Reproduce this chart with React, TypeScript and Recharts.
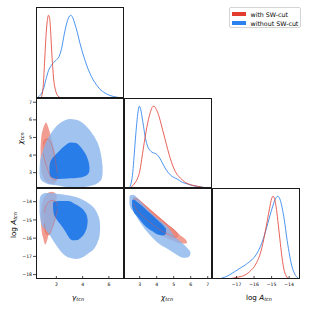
import React from "react";
import { Area, ComposedChart, Line, XAxis, YAxis } from "recharts";

// tick values
const gammaTicks = [2, 4, 6];
const chiTicks = [3, 4, 5, 6, 7];
const logATicks = [-18, -17, -16, -15, -14];
const logAXTicks = [-17, -16, -15, -14];

// 1D marginals, [x, density] (normalised to peak 1)
const gammaRed: [number, number][] = [
  [0.8, 0], [0.9, 0.03], [1.0, 0.15], [1.1, 0.42], [1.2, 0.72], [1.3, 0.92], [1.4, 1.0],
  [1.48, 0.97], [1.56, 0.82], [1.64, 0.58], [1.72, 0.38], [1.8, 0.22], [1.9, 0.12],
  [2.0, 0.06], [2.15, 0.02], [2.4, 0],
];
const gammaBlue: [number, number][] = [
  [0.5, 0], [0.75, 0.03], [1.0, 0.1], [1.2, 0.22], [1.4, 0.33], [1.6, 0.39], [1.8, 0.43],
  [2.0, 0.46], [2.2, 0.5], [2.4, 0.6], [2.6, 0.77], [2.8, 0.91], [3.0, 0.99], [3.1, 1.0],
  [3.25, 0.97], [3.4, 0.9], [3.6, 0.79], [3.8, 0.66], [4.05, 0.52], [4.3, 0.4], [4.55, 0.3],
  [4.8, 0.22], [5.05, 0.16], [5.3, 0.11], [5.7, 0.06], [6.1, 0.03], [6.6, 0.01], [7.1, 0],
];
const chiRed: [number, number][] = [
  [2.43, 0], [2.6, 0.03], [2.75, 0.07], [2.9, 0.13], [3.02, 0.22], [3.12, 0.35], [3.22, 0.49],
  [3.32, 0.62], [3.42, 0.74], [3.52, 0.84], [3.62, 0.92], [3.72, 0.98], [3.8, 1.0], [3.9, 0.99],
  [4.0, 0.95], [4.1, 0.9], [4.2, 0.83], [4.35, 0.71], [4.5, 0.59], [4.65, 0.47], [4.8, 0.36],
  [4.95, 0.27], [5.1, 0.2], [5.3, 0.14], [5.5, 0.1], [5.75, 0.06], [6.0, 0.04], [6.4, 0.02],
  [6.9, 0],
];
const chiBlue: [number, number][] = [
  [2.38, 0], [2.5, 0.06], [2.6, 0.2], [2.67, 0.38], [2.75, 0.6], [2.83, 0.79], [2.91, 0.94],
  [2.98, 1.0], [3.06, 0.96], [3.14, 0.87], [3.23, 0.75], [3.32, 0.63], [3.42, 0.54],
  [3.51, 0.49], [3.65, 0.45], [3.8, 0.43], [3.95, 0.42], [4.1, 0.39], [4.25, 0.34], [4.4, 0.28],
  [4.6, 0.21], [4.8, 0.16], [5.0, 0.13], [5.2, 0.11], [5.5, 0.07], [5.8, 0.05], [6.1, 0.03],
  [6.4, 0.02], [6.95, 0],
];
const logARed: [number, number][] = [
  [-17.4, 0], [-17.0, 0.02], [-16.6, 0.04], [-16.25, 0.09], [-15.9, 0.18], [-15.6, 0.34],
  [-15.4, 0.53], [-15.25, 0.7], [-15.12, 0.85], [-15.0, 0.97], [-14.92, 1.0], [-14.82, 0.96],
  [-14.72, 0.84], [-14.62, 0.66], [-14.5, 0.43], [-14.4, 0.25], [-14.3, 0.12], [-14.18, 0.04],
  [-14.0, 0],
];
const logABlue: [number, number][] = [
  [-18.0, 0], [-17.7, 0.02], [-17.4, 0.05], [-17.1, 0.09], [-16.8, 0.13], [-16.5, 0.17],
  [-16.25, 0.21], [-16.0, 0.26], [-15.78, 0.33], [-15.5, 0.47], [-15.22, 0.67], [-14.95, 0.87],
  [-14.8, 0.96], [-14.65, 1.0], [-14.5, 0.95], [-14.37, 0.83], [-14.25, 0.68], [-14.15, 0.52],
  [-14.0, 0.32], [-13.85, 0.16], [-13.7, 0.07], [-13.55, 0.02], [-13.4, 0],
];

// 2D contours as bands, [x, low, high]
// gamma vs chi
const gcBlue95: [number, number, number][] = [
  [0.72, 2.95, 3.25], [0.75, 2.75, 3.55], [0.85, 2.58, 3.95], [1.0, 2.48, 4.3], [1.2, 2.4, 4.72],
  [1.5, 2.33, 5.12], [2.0, 2.28, 5.63], [2.5, 2.22, 5.92], [3.0, 2.17, 6.05], [3.5, 2.16, 6.0],
  [3.9, 2.18, 5.88], [4.3, 2.2, 5.62], [4.7, 2.27, 5.25], [5.0, 2.35, 4.9], [5.3, 2.5, 4.35],
  [5.45, 2.65, 3.8], [5.52, 2.95, 3.35],
];
const gcBlue68: [number, number, number][] = [
  [1.48, 3.05, 3.35], [1.52, 2.82, 3.55], [1.65, 2.72, 3.78], [1.85, 2.67, 3.95], [2.2, 2.64, 4.22],
  [2.6, 2.65, 4.5], [3.1, 2.68, 4.72], [3.5, 2.7, 4.68], [3.8, 2.72, 4.5], [4.1, 2.78, 4.2],
  [4.35, 2.88, 3.85], [4.5, 3.05, 3.45], [4.52, 3.2, 3.3],
];
const gcRed95: [number, number, number][] = [
  [0.8, 3.7, 4.4], [0.85, 3.2, 5.0], [0.95, 2.85, 5.4], [1.1, 2.6, 5.72], [1.22, 2.5, 5.85],
  [1.35, 2.42, 5.65], [1.5, 2.38, 5.3], [1.7, 2.36, 4.75], [1.9, 2.42, 4.15], [2.05, 2.55, 3.55],
  [2.12, 2.8, 3.1],
];
const gcRed68: [number, number, number][] = [
  [1.0, 4.1, 4.6], [1.1, 3.75, 4.85], [1.25, 3.35, 4.92], [1.45, 2.95, 4.85], [1.65, 2.7, 4.55],
  [1.85, 2.6, 4.0], [2.0, 2.63, 3.35], [2.08, 2.8, 3.0],
];
// gamma vs log A
const gaBlue95: [number, number, number][] = [
  [0.72, -14.6, -13.95], [0.78, -14.95, -13.72], [0.9, -15.3, -13.6], [1.2, -15.55, -13.52],
  [1.6, -15.95, -13.53], [2.0, -16.4, -13.56], [2.5, -16.85, -13.6], [3.0, -17.08, -13.66],
  [3.5, -17.14, -13.75], [4.0, -17.05, -13.9], [4.5, -16.8, -14.12], [4.9, -16.55, -14.38],
  [5.15, -16.2, -14.7], [5.3, -15.8, -15.05], [5.33, -15.5, -15.3],
];
const gaBlue68: [number, number, number][] = [
  [1.75, -14.35, -14.05], [1.8, -14.65, -14.0], [2.0, -14.95, -13.97], [2.35, -15.28, -13.96],
  [2.7, -15.65, -13.96], [3.0, -16.0, -13.98], [3.3, -16.12, -14.08], [3.6, -16.1, -14.2],
  [3.9, -15.95, -14.35], [4.2, -15.65, -14.6], [4.35, -15.3, -14.85], [4.38, -15.1, -15.0],
];
const gaRed95: [number, number, number][] = [
  [0.82, -15.1, -14.6], [0.88, -15.6, -14.25], [1.0, -16.0, -13.9], [1.16, -16.35, -13.68],
  [1.3, -16.12, -13.55], [1.45, -15.65, -13.48], [1.65, -15.0, -13.45], [1.85, -14.4, -13.5],
  [1.98, -14.0, -13.62], [2.03, -13.8, -13.7],
];
const gaRed68: [number, number, number][] = [
  [1.08, -15.2, -14.6], [1.15, -15.6, -14.35], [1.3, -15.8, -14.12], [1.46, -15.8, -13.98],
  [1.65, -15.5, -13.93], [1.85, -15.1, -13.95], [2.02, -14.6, -14.1], [2.08, -14.4, -14.25],
];
// chi vs log A
const caBlue95: [number, number, number][] = [
  [2.4, -14.1, -13.75], [2.45, -14.3, -13.65], [2.6, -14.5, -13.62], [2.9, -14.95, -13.82],
  [3.3, -15.5, -14.25], [3.7, -15.92, -14.65], [4.2, -16.35, -15.05], [4.7, -16.62, -15.45],
  [5.0, -16.8, -15.85], [5.3, -16.98, -16.12], [5.6, -17.08, -16.35], [5.85, -17.05, -16.6],
  [5.98, -16.9, -16.75],
];
const caBlue68: [number, number, number][] = [
  [2.55, -14.25, -13.95], [2.62, -14.5, -13.88], [2.8, -14.75, -13.97], [3.1, -15.1, -14.2],
  [3.4, -15.4, -14.45], [3.8, -15.65, -14.78], [4.1, -15.82, -15.05], [4.4, -15.85, -15.32],
  [4.55, -15.75, -15.5],
];
const caRed95: [number, number, number][] = [
  [2.6, -14.1, -13.8], [2.7, -14.45, -13.75], [3.0, -14.8, -13.92], [3.5, -15.3, -14.35],
  [4.0, -15.65, -14.75], [4.5, -15.95, -15.15], [5.0, -16.15, -15.5], [5.4, -16.28, -15.85],
  [5.7, -16.3, -16.08], [5.78, -16.25, -16.2],
];
const caRed68: [number, number, number][] = [
  [2.65, -14.1, -13.85], [2.8, -14.4, -13.85], [3.2, -14.8, -14.1], [3.7, -15.2, -14.5],
  [4.2, -15.55, -14.9], [4.7, -15.8, -15.3], [5.1, -15.95, -15.62], [5.25, -15.9, -15.8],
];

const GAMMA_DOM: [number, number] = [0.45, 7.15];
const CHI_X_DOM: [number, number] = [2.08, 7.25];
const CHI_Y_DOM: [number, number] = [2.13, 7.24];
const LOGA_X_DOM: [number, number] = [-18.4, -13.38];
const LOGA_Y_DOM: [number, number] = [-18.24, -13.25];
const PDF_DOM: [number, number] = [0, 1.1];

const FONT = "'DejaVu Sans', sans-serif";
const INK = "#1a1a1a";
const RED_LINE = "#e3463a";
const BLUE_LINE = "#2a82ec";
const RED95 = "#f29d92";
const RED68 = "#ec887c";
const RED_EDGE = "#e0584a";
const BLUE95 = "#88b4ec";
const BLUE68 = "#0a6ce6";

// panel grid
const PX = [36, 124, 212];
const PY = [7, 98, 188];
const PW = 88;
const PH = [91, 90, 91];

const TICK = { fill: "#000", fontSize: 4.6, fontFamily: FONT };

const fmt = (v: number) => (v < 0 ? `\u2212${Math.abs(v)}` : `${v}`);
const toLine = (pts: [number, number][]) => pts.map(([x, y]) => ({ x, y }));
const toBand = (pts: [number, number, number][]) =>
  pts.map(([x, lo, hi]) => ({ x, r: [lo, hi] }));

function Title({ x, y, pre, main, vertical }: {
  x: number; y: number; pre?: string; main: string; vertical?: boolean;
}) {
  return (
    <text
      x={x}
      y={y}
      textAnchor="middle"
      fontFamily={FONT}
      fontSize={7.2}
      fill="#000"
      transform={vertical ? `rotate(-90 ${x} ${y})` : undefined}
    >
      {pre ? <tspan>{pre}</tspan> : null}
      <tspan fontStyle="italic">{main}</tspan>
      <tspan fontStyle="italic" fontSize={5} dy={1.6}>tcn</tspan>
    </text>
  );
}

interface PanelProps {
  row: number;
  col: number;
  xDomain: [number, number];
  xTicks: number[];
  yDomain: [number, number];
  yTicks?: number[];
  yLabels?: boolean;
  xLabels?: boolean;
  xTitle?: React.ReactElement;
  yTitle?: React.ReactElement;
  children: React.ReactNode;
}

function Panel({
  row, col, xDomain, xTicks, yDomain, yTicks, yLabels, xLabels, xTitle, yTitle, children,
}: PanelProps) {
  const yW = yLabels ? 36 : 4;
  const xH = xLabels ? 30 : 2;
  const right = col === 2 ? 8 : 0;
  const width = yW + PW + right;
  const height = PH[row] + xH;
  return (
    <div style={{ position: "absolute", left: PX[col] - yW, top: PY[row], width, height }}>
      <ComposedChart width={width} height={height} margin={{ top: 0, right, bottom: 0, left: 0 }}>
        <XAxis
          type="number"
          dataKey="x"
          domain={xDomain}
          ticks={xTicks}
          interval={0}
          allowDataOverflow
          height={xH}
          axisLine={false}
          tickSize={-3}
          tickMargin={6.3}
          tickLine={{ stroke: INK, strokeWidth: 0.8 }}
          tick={xLabels ? TICK : false}
          tickFormatter={fmt}
          label={xTitle ? () => xTitle : undefined}
        />
        <YAxis
          type="number"
          domain={yDomain}
          ticks={yTicks}
          interval={0}
          allowDataOverflow
          width={yW}
          axisLine={false}
          tickSize={3}
          tickMargin={1}
          tickLine={yTicks ? { stroke: INK, strokeWidth: 0.8 } : false}
          tick={yLabels ? TICK : false}
          tickFormatter={fmt}
          label={yTitle ? () => yTitle : undefined}
        />
        {children}
      </ComposedChart>
      <div
        style={{
          position: "absolute",
          left: yW,
          top: 0,
          width: PW,
          height: PH[row],
          border: `1px solid ${INK}`,
          boxSizing: "border-box",
          pointerEvents: "none",
        }}
      />
    </div>
  );
}

function pdfLine(pts: [number, number][], color: string, key: string) {
  return (
    <Line
      key={key}
      data={toLine(pts)}
      dataKey="y"
      type="monotone"
      stroke={color}
      strokeWidth={0.85}
      dot={false}
      activeDot={false}
      isAnimationActive={false}
    />
  );
}

function contours(
  red95: [number, number, number][],
  red68: [number, number, number][],
  blue95: [number, number, number][],
  blue68: [number, number, number][],
) {
  const common = { dataKey: "r", type: "monotone" as const, activeDot: false, isAnimationActive: false };
  return [
    <Area key="r95" {...common} data={toBand(red95)} fill={RED95} fillOpacity={1} stroke="none" />,
    <Area key="r68" {...common} data={toBand(red68)} fill={RED68} fillOpacity={1} stroke="none" />,
    <Area key="b95" {...common} data={toBand(blue95)} fill={BLUE95} fillOpacity={0.8} stroke="none" />,
    <Area key="b68" {...common} data={toBand(blue68)} fill={BLUE68} fillOpacity={0.8} stroke="none" />,
    <Area key="r68e" {...common} data={toBand(red68)} fill="none" fillOpacity={0} stroke={RED_EDGE} strokeOpacity={0.75} strokeWidth={0.6} />,
  ];
}

export default function App() {
  return (
    <div
      style={{
        position: "absolute",
        left: 0,
        top: 0,
        width: 309,
        height: 309,
        background: "#fff",
        overflow: "hidden",
      }}
    >
      {/* diagonal: gamma */}
      <Panel row={0} col={0} xDomain={GAMMA_DOM} xTicks={gammaTicks} yDomain={PDF_DOM}>
        {pdfLine(gammaBlue, BLUE_LINE, "b")}
        {pdfLine(gammaRed, RED_LINE, "r")}
      </Panel>

      {/* gamma vs chi */}
      <Panel
        row={1}
        col={0}
        xDomain={GAMMA_DOM}
        xTicks={gammaTicks}
        yDomain={CHI_Y_DOM}
        yTicks={chiTicks}
        yLabels
        yTitle={<Title x={22.5} y={40.5} main="χ" vertical />}
      >
        {contours(gcRed95, gcRed68, gcBlue95, gcBlue68)}
      </Panel>

      {/* diagonal: chi */}
      <Panel row={1} col={1} xDomain={CHI_X_DOM} xTicks={chiTicks} yDomain={PDF_DOM}>
        {pdfLine(chiBlue, BLUE_LINE, "b")}
        {pdfLine(chiRed, RED_LINE, "r")}
      </Panel>

      {/* gamma vs log A */}
      <Panel
        row={2}
        col={0}
        xDomain={GAMMA_DOM}
        xTicks={gammaTicks}
        yDomain={LOGA_Y_DOM}
        yTicks={logATicks}
        yLabels
        xLabels
        xTitle={<Title x={78} y={111.5} main="γ" />}
        yTitle={<Title x={15.5} y={37} pre="log " main="A" vertical />}
      >
        {contours(gaRed95, gaRed68, gaBlue95, gaBlue68)}
      </Panel>

      {/* chi vs log A */}
      <Panel
        row={2}
        col={1}
        xDomain={CHI_X_DOM}
        xTicks={chiTicks}
        yDomain={LOGA_Y_DOM}
        yTicks={logATicks}
        xLabels
        xTitle={<Title x={47} y={111.5} main="χ" />}
      >
        {contours(caRed95, caRed68, caBlue95, caBlue68)}
      </Panel>

      {/* diagonal: log A */}
      <Panel
        row={2}
        col={2}
        xDomain={LOGA_X_DOM}
        xTicks={logAXTicks}
        yDomain={PDF_DOM}
        xLabels
        xTitle={<Title x={51} y={111.5} pre="log " main="A" />}
      >
        {pdfLine(logABlue, BLUE_LINE, "b")}
        {pdfLine(logARed, RED_LINE, "r")}
      </Panel>

      {/* legend */}
      <div
        style={{
          position: "absolute",
          left: 229,
          top: 7,
          width: 72,
          height: 21,
          boxSizing: "border-box",
          border: "1px solid #d4d4d4",
          borderRadius: 2,
          background: "#fff",
          fontFamily: FONT,
          fontSize: 6.3,
          color: "#000",
        }}
      >
        {[
          { label: "with SW-cut", color: "#e13c2d" },
          { label: "without SW-cut", color: "#2b82ee" },
        ].map((item, i) => (
          <div
            key={item.label}
            style={{
              position: "absolute",
              left: 2,
              top: 2 + i * 9.3,
              height: 8,
              display: "flex",
              alignItems: "center",
              whiteSpace: "nowrap",
            }}
          >
            <span
              style={{
                display: "inline-block",
                width: 13.5,
                height: 4.4,
                background: item.color,
                marginRight: 5,
              }}
            />
            <span>{item.label}</span>
          </div>
        ))}
      </div>
    </div>
  );
}
